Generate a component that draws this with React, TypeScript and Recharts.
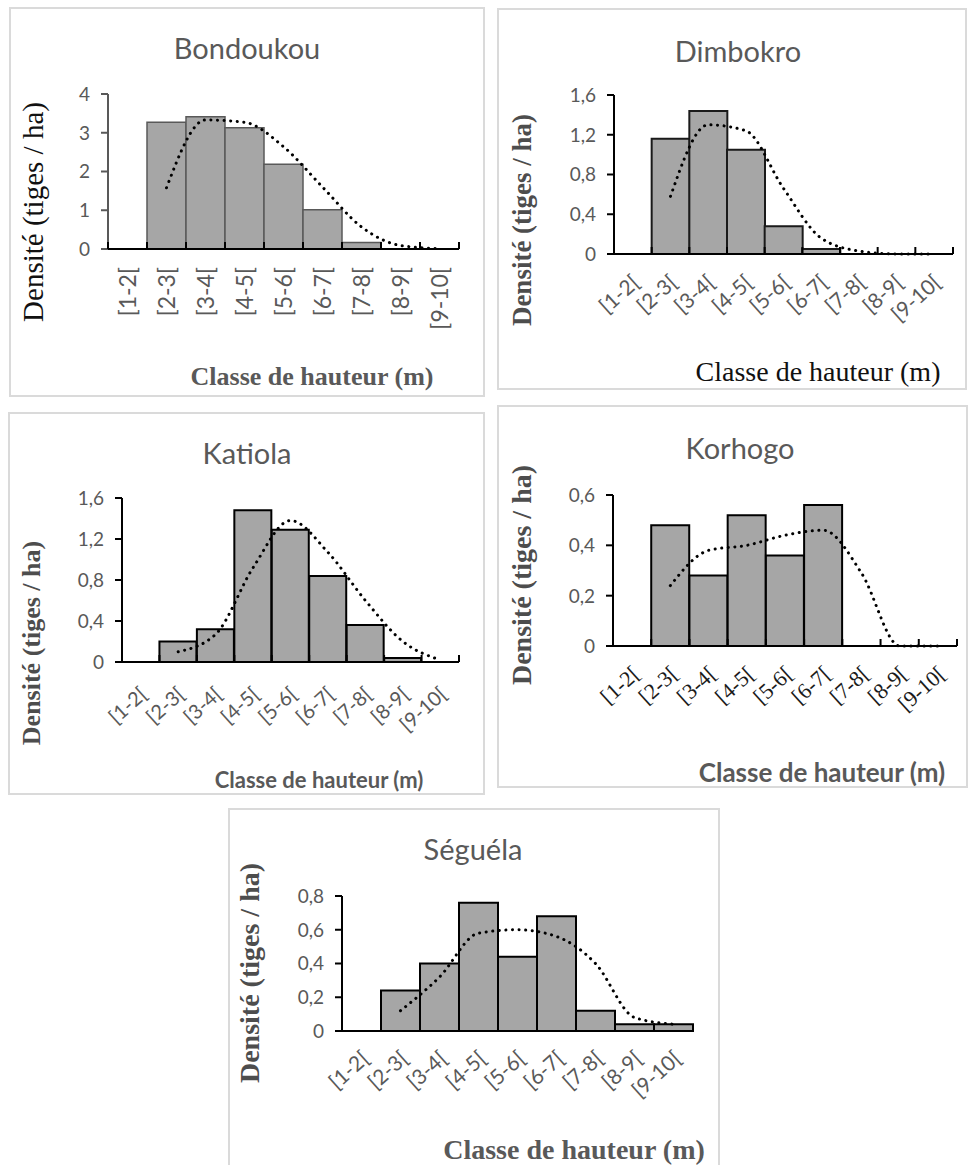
import React from 'react';
import { ComposedChart, Bar, Line, XAxis, YAxis } from 'recharts';

// Height classes shared by all five sites
const heightClasses = ['[1-2[', '[2-3[', '[3-4[', '[4-5[', '[5-6[', '[6-7[', '[7-8[', '[8-9[', '[9-10['];

// Stem density per class (tiges / ha) and the smoothed dotted trend
const bondoukouDensity = [0, 3.27, 3.41, 3.13, 2.19, 1.01, 0.17, 0, 0];
const bondoukouTrend = [null, 1.58, 3.33, 3.27, 2.64, 1.6, 0.57, 0.09, 0.01];
const bondoukouTicks = [0, 1, 2, 3, 4];

const dimbokroDensity = [0, 1.16, 1.44, 1.05, 0.28, 0.05, 0, 0, 0];
const dimbokroTrend = [null, 0.58, 1.3, 1.24, 0.66, 0.16, 0.03, 0, 0];
const dimbokroTicks = [0, 0.4, 0.8, 1.2, 1.6];

const katiolaDensity = [0, 0.2, 0.32, 1.48, 1.29, 0.84, 0.36, 0.04, 0];
const katiolaTrend = [null, 0.1, 0.27, 0.92, 1.38, 1.07, 0.6, 0.2, 0.02];
const katiolaTicks = [0, 0.4, 0.8, 1.2, 1.6];

const korhogoDensity = [0, 0.48, 0.28, 0.52, 0.36, 0.56, 0, 0, 0];
const korhogoTrend = [null, 0.24, 0.38, 0.4, 0.44, 0.46, 0.29, 0, 0];
const korhogoTicks = [0, 0.2, 0.4, 0.6];

const seguelaDensity = [0, 0.24, 0.4, 0.76, 0.44, 0.68, 0.12, 0.04, 0.04];
const seguelaTrend = [null, 0.12, 0.32, 0.58, 0.6, 0.56, 0.4, 0.08, 0.04];
const seguelaTicks = [0, 0.2, 0.4, 0.6, 0.8];

const SANS = 'Lato, "Open Sans", sans-serif';
const SERIF = '"Liberation Serif", "DejaVu Serif", serif';
const GRAY = '#595959';

const Y_AXIS_WIDTH = 50;
const X_AXIS_HEIGHT = 80;

interface TextStyle {
  x: number;
  y: number;
  size: number;
  weight: number;
  color: string;
  family: string;
}

interface PanelConfig {
  title: string;
  density: number[];
  trend: (number | null)[];
  ticks: number[];
  box: { x: number; y: number; w: number; h: number };
  plot: { left: number; right: number; top: number; bottom: number };
  titlePos: { x: number; y: number };
  yTitle: TextStyle;
  xTitle: TextStyle;
  tickAngle: number;
  tickDx: number;
  tickDy: number;
  tickFont: string;
  tickSize: number;
  tickColor: string;
  barStroke: string;
  barStrokeWidth: number;
  yAxisColor: string;
}

const panels: PanelConfig[] = [
  {
    title: 'Bondoukou',
    density: bondoukouDensity,
    trend: bondoukouTrend,
    ticks: bondoukouTicks,
    box: { x: 9, y: 7, w: 476, h: 390 },
    plot: { left: 108, right: 459, top: 94, bottom: 249 },
    titlePos: { x: 247, y: 47 },
    yTitle: { x: 33, y: 212, size: 29, weight: 400, color: '#111', family: SERIF },
    xTitle: { x: 312, y: 377, size: 26, weight: 700, color: GRAY, family: SERIF },
    tickAngle: -90,
    tickDx: 0,
    tickDy: 18,
    tickFont: SANS,
    tickSize: 23,
    tickColor: GRAY,
    barStroke: '#595959',
    barStrokeWidth: 1.5,
    yAxisColor: '#595959',
  },
  {
    title: 'Dimbokro',
    density: dimbokroDensity,
    trend: dimbokroTrend,
    ticks: dimbokroTicks,
    box: { x: 497, y: 8, w: 470, h: 382 },
    plot: { left: 614, right: 953, top: 95, bottom: 254 },
    titlePos: { x: 738, y: 50 },
    yTitle: { x: 522, y: 220, size: 27, weight: 700, color: '#4d4d4d', family: SERIF },
    xTitle: { x: 818, y: 372, size: 28, weight: 400, color: '#111', family: SERIF },
    tickAngle: -42,
    tickDx: 3,
    tickDy: 25,
    tickFont: SANS,
    tickSize: 21,
    tickColor: GRAY,
    barStroke: '#1a1a1a',
    barStrokeWidth: 2,
    yAxisColor: '#000',
  },
  {
    title: 'Katiola',
    density: katiolaDensity,
    trend: katiolaTrend,
    ticks: katiolaTicks,
    box: { x: 8, y: 412, w: 477, h: 383 },
    plot: { left: 122, right: 459, top: 498, bottom: 662 },
    titlePos: { x: 247, y: 452 },
    yTitle: { x: 32, y: 643, size: 26, weight: 700, color: '#4d4d4d', family: SERIF },
    xTitle: { x: 319, y: 780, size: 22, weight: 700, color: GRAY, family: SANS },
    tickAngle: -42,
    tickDx: 3,
    tickDy: 29,
    tickFont: SANS,
    tickSize: 20,
    tickColor: GRAY,
    barStroke: '#000',
    barStrokeWidth: 2,
    yAxisColor: '#000',
  },
  {
    title: 'Korhogo',
    density: korhogoDensity,
    trend: korhogoTrend,
    ticks: korhogoTicks,
    box: { x: 497, y: 405, w: 471, h: 383 },
    plot: { left: 613, right: 957, top: 495, bottom: 646 },
    titlePos: { x: 740, y: 447 },
    yTitle: { x: 522, y: 575, size: 28, weight: 700, color: '#4d4d4d', family: SERIF },
    xTitle: { x: 822, y: 772, size: 26, weight: 700, color: GRAY, family: SANS },
    tickAngle: -42,
    tickDx: 4,
    tickDy: 24,
    tickFont: SERIF,
    tickSize: 22,
    tickColor: '#1a1a1a',
    barStroke: '#000',
    barStrokeWidth: 2,
    yAxisColor: '#000',
  },
  {
    title: 'Séguéla',
    density: seguelaDensity,
    trend: seguelaTrend,
    ticks: seguelaTicks,
    box: { x: 228, y: 808, w: 492, h: 370 },
    plot: { left: 342, right: 693, top: 896, bottom: 1031 },
    titlePos: { x: 473, y: 848 },
    yTitle: { x: 250, y: 973, size: 28, weight: 700, color: '#4d4d4d', family: SERIF },
    xTitle: { x: 574, y: 1150, size: 28, weight: 700, color: GRAY, family: SERIF },
    tickAngle: -42,
    tickDx: 4,
    tickDy: 24,
    tickFont: SANS,
    tickSize: 21,
    tickColor: GRAY,
    barStroke: '#000',
    barStrokeWidth: 2,
    yAxisColor: '#000',
  },
];

const formatDensity = (v: number) => String(v).replace('.', ',');

const makeXTick = (p: PanelConfig) => (props: any) => {
  const { x, y, payload, index } = props;
  const band = (p.plot.right - p.plot.left) / heightClasses.length;
  const tx = x + p.tickDx;
  const ty = y + p.tickDy;
  return (
    <g>
      <line x1={x - band / 2} x2={x - band / 2} y1={y} y2={y - 7} stroke="#000" strokeWidth={2} />
      {index === heightClasses.length - 1 && (
        <line x1={x + band / 2} x2={x + band / 2} y1={y} y2={y - 7} stroke="#000" strokeWidth={2} />
      )}
      <text
        x={tx}
        y={ty}
        dy="0.35em"
        textAnchor="end"
        transform={`rotate(${p.tickAngle}, ${tx}, ${ty})`}
        fill={p.tickColor}
        fontSize={p.tickSize}
        fontFamily={p.tickFont}
      >
        {payload.value}
      </text>
    </g>
  );
};

const renderYTick = (props: any) => {
  const { x, y, payload } = props;
  return (
    <text x={x} y={y} dy="0.36em" textAnchor="end" fill={GRAY} fontSize={19} fontFamily={SANS}>
      {formatDensity(payload.value)}
    </text>
  );
};

function AbsText({ s, text, rotate = false }: { s: TextStyle; text: string; rotate?: boolean }) {
  return (
    <div
      style={{
        position: 'absolute',
        left: s.x,
        top: s.y,
        transform: `translate(-50%, -50%)${rotate ? ' rotate(-90deg)' : ''}`,
        fontSize: s.size,
        fontWeight: s.weight,
        color: s.color,
        fontFamily: s.family,
        whiteSpace: 'nowrap',
        lineHeight: 1,
      }}
    >
      {text}
    </div>
  );
}

function Panel({ p }: { p: PanelConfig }) {
  const data = heightClasses.map((classe, i) => ({
    classe,
    densite: p.density[i],
    tendance: p.trend[i],
  }));
  const { box, plot } = p;
  const margin = {
    left: plot.left - box.x - Y_AXIS_WIDTH,
    top: plot.top - box.y,
    right: box.x + box.w - plot.right,
    bottom: box.y + box.h - plot.bottom - X_AXIS_HEIGHT,
  };
  const yMax = p.ticks[p.ticks.length - 1];

  return (
    <>
      <div
        style={{
          position: 'absolute',
          left: box.x,
          top: box.y,
          width: box.w,
          height: box.h,
          border: '2px solid #dadada',
          boxSizing: 'border-box',
        }}
      />
      <div style={{ position: 'absolute', left: box.x, top: box.y }}>
        <ComposedChart width={box.w} height={box.h} data={data} margin={margin} barCategoryGap={0} barGap={0}>
          <XAxis
            dataKey="classe"
            interval={0}
            height={X_AXIS_HEIGHT}
            tickLine={false}
            tickSize={0}
            tickMargin={0}
            axisLine={{ stroke: '#000', strokeWidth: 2 }}
            tick={makeXTick(p)}
          />
          <YAxis
            width={Y_AXIS_WIDTH}
            domain={[0, yMax]}
            ticks={p.ticks}
            tickSize={7}
            tickMargin={11}
            axisLine={{ stroke: p.yAxisColor, strokeWidth: 2 }}
            tickLine={{ stroke: p.yAxisColor, strokeWidth: 2 }}
            tick={renderYTick}
          />
          <Bar
            dataKey="densite"
            fill="#a6a6a6"
            stroke={p.barStroke}
            strokeWidth={p.barStrokeWidth}
            isAnimationActive={false}
          />
          <Line
            type="monotone"
            dataKey="tendance"
            stroke="#000"
            strokeWidth={3}
            strokeDasharray="0.1 6.5"
            strokeLinecap="round"
            dot={false}
            activeDot={false}
            isAnimationActive={false}
          />
        </ComposedChart>
      </div>
      <div
        style={{
          position: 'absolute',
          left: p.titlePos.x,
          top: p.titlePos.y,
          transform: 'translate(-50%, -50%)',
          fontSize: 29,
          fontFamily: SANS,
          color: GRAY,
          whiteSpace: 'nowrap',
          lineHeight: 1,
        }}
      >
        {p.title}
      </div>
      <AbsText s={p.yTitle} text="Densité (tiges / ha)" rotate />
      <AbsText s={p.xTitle} text="Classe de hauteur (m)" />
    </>
  );
}

export default function App() {
  return (
    <div
      style={{
        position: 'absolute',
        left: 0,
        top: 0,
        width: 968,
        height: 1165,
        overflow: 'hidden',
        background: '#fff',
      }}
    >
      {panels.map((p) => (
        <Panel key={p.title} p={p} />
      ))}
    </div>
  );
}
